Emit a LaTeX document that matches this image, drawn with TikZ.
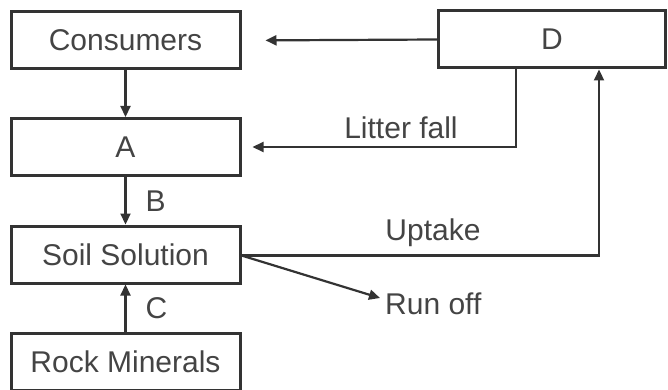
\documentclass[tikz,border=0pt]{standalone}
\usepackage{fontspec}
\setmainfont{Liberation Sans}
\usetikzlibrary{arrows.meta,calc}
\definecolor{ink}{HTML}{333333}
\definecolor{txt}{HTML}{444444}
\begin{document}
\begin{tikzpicture}[x=1pt,y=-1pt,
  box/.style={draw=ink,line width=3pt,minimum width=229pt,minimum height=57pt,inner sep=0pt,
    font=\fontsize{30}{34}\selectfont,text=txt},
  arr/.style={draw=ink,line width=2.2pt,-{Triangle[length=11pt,width=10pt]}},
  lab/.style={font=\fontsize{30}{34}\selectfont,text=txt,inner sep=0pt}]
\useasboundingbox (0,0) rectangle (668,390);
\node[box] (cons) at (125.5,40.5) {Consumers};
\node[box] (A) at (125.5,147) {A};
\node[box] (soil) at (125.5,254.5) {Soil Solution};
\node[box] (rock) at (125.5,362) {Rock Minerals};
\node[box,minimum width=227pt] (D) at (552,39.5) {D};
% vertical arrows
\draw[arr] (cons.south) -- (A.north);
\draw[arr] (A.south) -- node[lab,right=19pt,pos=0.5] (B) {B} (soil.north);
\draw[arr] (rock.north) -- node[lab,right=19pt,pos=0.5] (C) {C} (soil.south);
% D to consumers
\draw[arr,shorten >=24pt] (D.west) -- (cons.east);
% litter fall
\coordinate (lfturn) at (516,147);
\draw[arr,shorten >=11pt] (D.south -| lfturn) -- (lfturn) -- (A.east);
\node[lab] (litter) at (401,128) {Litter fall};
% uptake
\coordinate (upturn) at (599,255.5);
\draw[arr] (soil.east |- upturn) -- (upturn) -- (D.south -| upturn);
\node[lab] (uptake) at (433,233) {Uptake};
% run off
\coordinate (roend) at (380,298);
\draw[arr] (soil.east |- upturn) -- (roend);
\node[lab,anchor=west] (runoff) at (385,304) {Run off};
\end{tikzpicture}
\end{document}
